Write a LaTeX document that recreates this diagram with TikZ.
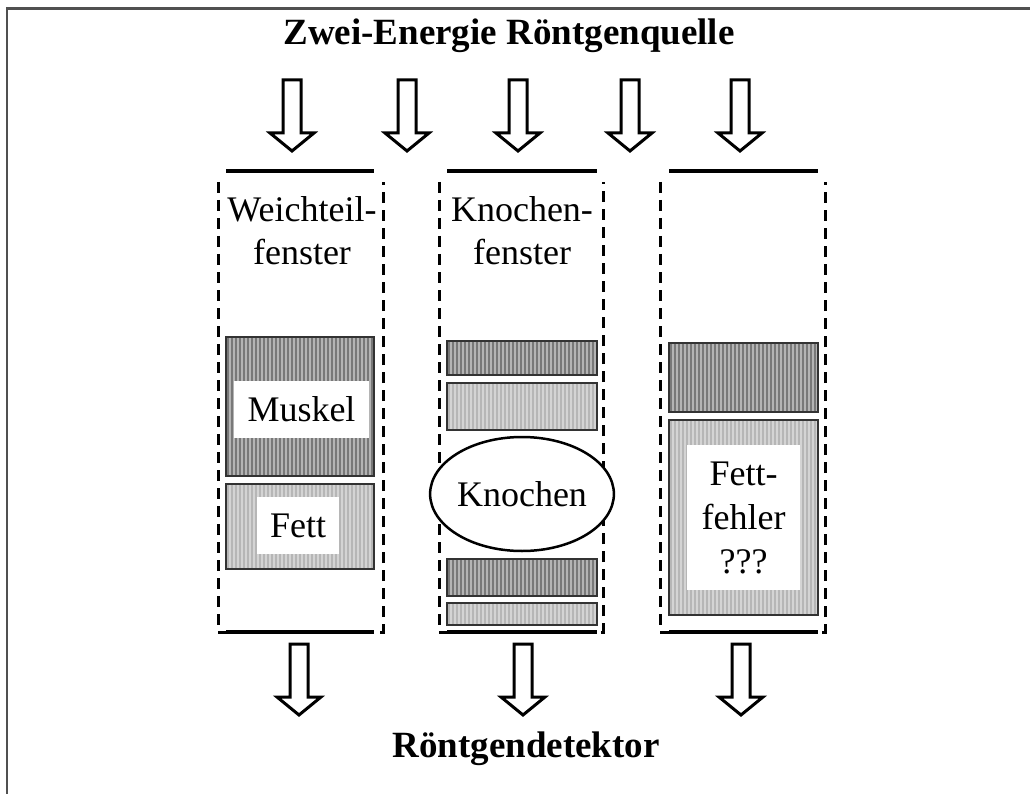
\documentclass[tikz,border=0pt]{standalone}
\usepackage{fontspec}
\setmainfont{Liberation Serif}
\usetikzlibrary{shapes.geometric}
\definecolor{darkfill}{HTML}{B4B4B4}
\definecolor{darkline}{HTML}{787878}
\definecolor{lightfill}{HTML}{D4D4D4}
\definecolor{lightline}{HTML}{B6B6B6}
\definecolor{framecol}{HTML}{505050}
\tikzset{
  framestyle/.style={draw=framecol, line width=2.5pt},
  titletext/.style={font=\fontsize{37}{44}\selectfont\bfseries, inner sep=0pt},
  labeltext/.style={font=\fontsize{36}{43}\selectfont, align=center, inner sep=0pt},
  winline/.style={line width=3.5pt, draw=black},
  windash/.style={line width=3pt, draw=black, dash pattern=on 11pt off 7pt},
  blockbase/.style={draw=black!80, line width=1.4pt, inner sep=0pt, minimum width=#1},
  darkblock/.style={blockbase=#1, fill=darkfill, path picture={
      \foreach \i in {2,6,...,158}{\draw[line width=1.5pt, draw=darkline]
        ([xshift=\i pt]path picture bounding box.south west) --
        ([xshift=\i pt]path picture bounding box.north west);}}},
  lightblock/.style={blockbase=#1, fill=lightfill, path picture={
      \foreach \i in {2,6,...,158}{\draw[line width=1.5pt, draw=lightline]
        ([xshift=\i pt]path picture bounding box.south west) --
        ([xshift=\i pt]path picture bounding box.north west);}}},
  whitebox/.style={fill=white, inner sep=0pt, font=\fontsize{36}{44}\selectfont, align=center},
  bone/.style={ellipse, draw=black, line width=2.5pt, fill=white, inner sep=0pt,
    minimum width=160pt, minimum height=114pt, font=\fontsize{36}{43}\selectfont},
  arrowline/.style={draw=black, line width=3pt, fill=white, line join=miter}
}
\begin{document}
\begin{tikzpicture}[x=1pt, y=-1pt]
\useasboundingbox (0,0) rectangle (1030,794);
% frame
\coordinate (fbl) at (7,794);
\coordinate (ftl) at (7,8.5);
\coordinate (ftr) at (1030,8.5);
\draw[framestyle] (fbl) -- (ftl) -- (ftr);

% titles
\node[titletext, anchor=base] (source) at (509,45) {Zwei-Energie Röntgenquelle};
\node[titletext, anchor=base] (detector) at (526,757) {Röntgendetektor};

% block arrows (top: source side, bottom: detector side)
\foreach \ax/\ay in {292/80, 407/80, 518/80, 630/80, 740/80, 299/644, 523/644, 741/644}{
  \draw[arrowline, shift={(\ax,\ay)}]
    (-9,0) -- (-9,53) -- (-22,53) -- (0,71) -- (22,53) -- (9,53) -- (9,0) -- cycle;
}

% dashed windows
\draw[windash] (218,182) -- (218,632) -- (383,632) -- (383,182);
\draw[windash] (439,182) -- (439,632) -- (603,632) -- (603,182);
\draw[windash] (660,182) -- (660,632) -- (825,632) -- (825,182);

% solid lines
\draw[winline] (226,171) -- (374,171);
\draw[winline] (447,171) -- (597,171);
\draw[winline] (669,171) -- (818,171);
\draw[winline] (226,632) -- (374,632);
\draw[winline] (447,632) -- (597,632);
\draw[winline] (669,632) -- (818,632);

% window labels
\node[labeltext] (lab1) at (302,231) {Weichteil-\\fenster};
\node[labeltext] (lab2) at (522,231) {Knochen-\\fenster};

% window 1
\node[darkblock=148pt, minimum height=139pt] (musk) at (300,406.5) {};
\node[lightblock=148pt, minimum height=85pt] (fat) at (300,526.5) {};
\node[whitebox, minimum width=135pt, minimum height=57pt] (musktxt) at (301.5,409.5) {Muskel};
\node[whitebox, minimum width=82pt, minimum height=57pt] (fattxt) at (298,525.5) {Fett};

% window 2
\node[darkblock=150pt, minimum height=34pt] (b2a) at (522,358) {};
\node[lightblock=150pt, minimum height=47pt] (b2b) at (522,406.5) {};
\node[bone] (bone) at (522,494) {Knochen};
\node[darkblock=150pt, minimum height=37pt] (b2c) at (522,577.5) {};
\node[lightblock=150pt, minimum height=22pt] (b2d) at (522,614) {};

% window 3
\node[darkblock=149pt, minimum height=69pt] (b3a) at (743.5,377.5) {};
\node[lightblock=149pt, minimum height=195pt] (b3b) at (743.5,517.5) {};
\node[whitebox, minimum width=113pt, minimum height=145pt] (errtxt) at (743.5,517.5) {Fett-\\fehler\\???};
\end{tikzpicture}
\end{document}
